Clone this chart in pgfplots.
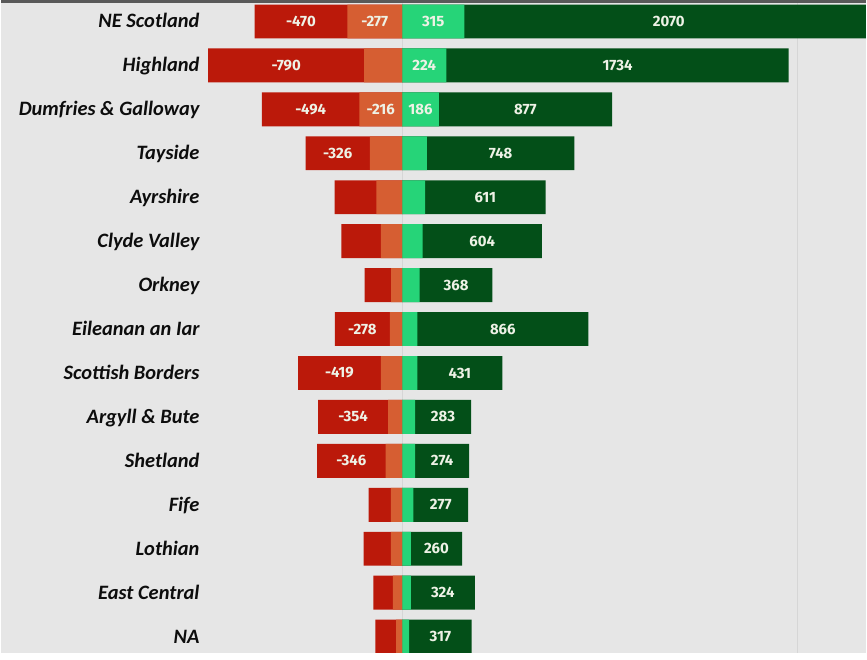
\documentclass[border=0pt]{standalone}
\usepackage{pgfplots}
\pgfplotsset{compat=1.18}
\usepackage{pgfplotstable}
\usepackage{fontspec}
\setmainfont{Carlito}
\newfontfamily\numfont{Fira Sans}
\definecolor{bgc}{HTML}{E6E6E6}
\definecolor{cred}{HTML}{BB190A}
\definecolor{corange}{HTML}{D65E32}
\definecolor{clg}{HTML}{26D478}
\definecolor{cdg}{HTML}{034F18}
\definecolor{cgrid}{HTML}{D6D6D6}
\definecolor{ctxt}{HTML}{EEF2E6}
\pgfplotstableread{
y red or lg dg rl ol gl dl
0 470 277 315 2070 -470 -277 315 2070
1 790 192 224 1734 -790 {} 224 1734
2 494 216 186 877 -494 -216 186 877
3 326 163 125 748 -326 {} {} 748
4 212 130 116 611 {} {} {} 611
5 200 108 104 604 {} {} {} 604
6 135 55 89 368 {} {} {} 368
7 278 62 77 866 -278 {} {} 866
8 419 108 77 431 -419 {} {} 431
9 354 71 66 283 -354 {} {} 283
10 346 84 66 274 -346 {} {} 274
11 113 57 57 277 {} {} {} 277
12 138 57 44 260 {} {} {} 260
13 98 47 44 324 {} {} {} 324
14 106 30 35 317 {} {} {} 317
}\data
\begin{document}
\begin{tikzpicture}
\begin{axis}[
  scale only axis,
  width=867bp, height=654bp,
  xmin=-2030, xmax=2348,
  ymin=-0.477, ymax=14.364,
  y dir=reverse,
  enlargelimits=false,
  axis background/.style={fill=bgc},
  axis line style={draw=none},
  tick style={draw=none},
  xtick={0,2000}, xticklabels={},
  xmajorgrids, grid style={cgrid, line width=1bp},
  ytick={0,...,14},
  yticklabels={NE Scotland, Highland, Dumfries \& Galloway, Tayside, Ayrshire, Clyde Valley, Orkney, Eileanan an Iar, Scottish Borders, Argyll \& Bute, Shetland, Fife, Lothian, East Central, NA},
  yticklabel style={anchor=base east, xshift=199bp, yshift=-6.5bp, inner sep=0pt, font=\fontsize{20.5bp}{22bp}\selectfont\bfseries\itshape, text=black!95},
  ]
\addplot[xbar, bar width=34bp, bar shift=0pt, fill=cdg, draw=none] table[x expr=\thisrow{lg}+\thisrow{dg}, y=y] {\data};
\addplot[xbar, bar width=34bp, bar shift=0pt, fill=clg, draw=none] table[x=lg, y=y] {\data};
\addplot[xbar, bar width=34bp, bar shift=0pt, fill=cred, draw=none] table[x expr=-\thisrow{or}-\thisrow{red}, y=y] {\data};
\addplot[xbar, bar width=34bp, bar shift=0pt, fill=corange, draw=none] table[x expr=-\thisrow{or}, y=y] {\data};
\pgfplotsset{lblstyle/.style={draw=none, mark=none, nodes near coords, point meta=explicit symbolic,
  every node near coord/.append style={anchor=center, inner sep=0pt, text=ctxt, font=\numfont\bfseries\fontsize{15bp}{15bp}\selectfont}}}
\addplot[lblstyle] table[x expr=\thisrow{lg}+\thisrow{dg}/2, y=y, meta=dl] {\data};
\addplot[lblstyle] table[x expr=\thisrow{lg}/2, y=y, meta=gl] {\data};
\addplot[lblstyle] table[x expr=-\thisrow{or}-\thisrow{red}/2, y=y, meta=rl] {\data};
\addplot[lblstyle] table[x expr=-\thisrow{or}/2, y=y, meta=ol] {\data};
\end{axis}
\draw[black!65, line width=2.5bp] ([yshift=-1.25bp]current axis.north west) -- ([yshift=-1.25bp]current axis.north east);
\end{tikzpicture}
\end{document}
